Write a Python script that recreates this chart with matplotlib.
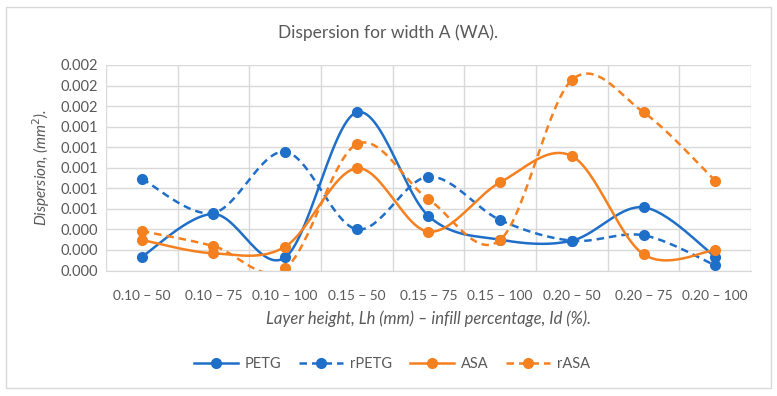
import numpy as np
import matplotlib
matplotlib.use("Agg")
import matplotlib.pyplot as plt
from matplotlib.patches import Rectangle

plt.rcParams['font.family'] = ['Lato', 'DejaVu Sans']

categories = ["0.10 − 50", "0.10 − 75", "0.10 − 100", "0.15 − 50", "0.15 − 75",
              "0.15 − 100", "0.20 − 50", "0.20 − 75", "0.20 − 100"]
petg = [0.000134, 0.00055, 0.000128, 0.00154, 0.00053, 0.00030, 0.00029, 0.000615, 0.000134]
rpetg = [0.000893, 0.00056, 0.001156, 0.000401, 0.000913, 0.000491, 0.00029, 0.000343, 0.00005]
asa = [0.000297, 0.000167, 0.000232, 0.000995, 0.000378, 0.000858, 0.001114, 0.000158, 0.0002]
rasa = [0.000384, 0.000238, 0.00002, 0.00123, 0.000693, 0.000297, 0.001854, 0.00154, 0.000874]
ytick_vals = [0.0, 0.0002, 0.0004, 0.0006, 0.0008, 0.0010, 0.0012, 0.0014, 0.0016, 0.0018, 0.0020]
ytick_labels = ["0.000", "0.000", "0.000", "0.001", "0.001", "0.001", "0.001", "0.001",
                "0.002", "0.002", "0.002"]

blue = "#1f6fc8"
orange = "#f5801f"
gray = "#595959"


def smooth(x, y, n=30):
    # Excel-style smoothing: Bezier segments with Catmull-Rom control points
    x = np.asarray(x, float)
    y = np.asarray(y, float)
    px = np.concatenate([[x[0]], x, [x[-1]]])
    py = np.concatenate([[y[0]], y, [y[-1]]])
    xs, ys = [], []
    t = np.linspace(0, 1, n)
    for i in range(1, len(px) - 2):
        p0 = np.array([px[i], py[i]])
        p3 = np.array([px[i + 1], py[i + 1]])
        p1 = p0 + (np.array([px[i + 1], py[i + 1]]) - np.array([px[i - 1], py[i - 1]])) / 6
        p2 = p3 - (np.array([px[i + 2], py[i + 2]]) - np.array([px[i], py[i]])) / 6
        b = ((1 - t) ** 3)[:, None] * p0 + (3 * (1 - t) ** 2 * t)[:, None] * p1 + \
            (3 * (1 - t) * t ** 2)[:, None] * p2 + (t ** 3)[:, None] * p3
        xs.extend(b[:, 0])
        ys.extend(b[:, 1])
    return np.array(xs), np.array(ys)


fig = plt.figure(figsize=(7.77, 3.96), dpi=100)
fig.patches.append(Rectangle((6 / 777, 1 - 388 / 396), 765 / 777, 381 / 396,
                             transform=fig.transFigure, fill=False,
                             edgecolor="#d9d9d9", linewidth=1))
ax = fig.add_axes([106 / 777, 1 - 270.5 / 396, 645 / 777, 205.5 / 396])

x = np.arange(len(categories))
series = [("PETG", petg, blue, "-"), ("rPETG", rpetg, blue, "--"),
          ("ASA", asa, orange, "-"), ("rASA", rasa, orange, "--")]
for name, vals, col, ls in series:
    sx, sy = smooth(x, vals)
    ax.plot(sx, sy, color=col, linestyle=ls, linewidth=1.8, dashes=(3, 2) if ls == "--" else (None, None))
    ax.plot(x, vals, linestyle="none", marker="o", markersize=7, color=col)
    ax.plot([], [], color=col, linestyle=ls, linewidth=1.8, marker="o", markersize=7, label=name,
            dashes=(3, 2) if ls == "--" else (None, None))

ax.set_xlim(-0.5, len(categories) - 0.5)
ax.set_ylim(0, 0.0020)
ax.set_yticks(ytick_vals)
ax.set_yticklabels(ytick_labels)
ax.set_xticks(x)
ax.set_xticklabels(categories)
ax.set_xticks(np.arange(-0.5, len(categories), 1.0), minor=True)
ax.grid(True, which="minor", axis="x", color="#d9d9d9", linewidth=1)
ax.grid(True, which="major", axis="y", color="#d9d9d9", linewidth=1)
ax.set_axisbelow(True)
ax.tick_params(axis="both", which="both", length=0, colors=gray, labelsize=10.5)
ax.tick_params(axis="x", pad=14, labelsize=9.8)
ax.tick_params(axis="y", pad=6)
for s in ["top", "right", "left"]:
    ax.spines[s].set_visible(False)
ax.spines["bottom"].set_color("#d9d9d9")

ax.set_ylabel(r"Dispersion, (mm$^2$).", fontsize=11, color=gray, style="italic", labelpad=6)
ax.set_xlabel("Layer height, Lh (mm) – infill percentage, Id (%).", fontsize=12,
              color=gray, style="italic", labelpad=6)
fig.text(388 / 777, 1 - 33 / 396, "Dispersion for width A (WA).", ha="center", va="center",
         fontsize=12.5, color=gray)

leg = fig.legend(loc="center", bbox_to_anchor=(392 / 777, 1 - 364 / 396), ncol=4,
                 frameon=False, fontsize=10.5, handlelength=3.0, columnspacing=1.2,
                 handletextpad=0.5)
for t in leg.get_texts():
    t.set_color(gray)

fig.savefig("out.png", dpi=100)
